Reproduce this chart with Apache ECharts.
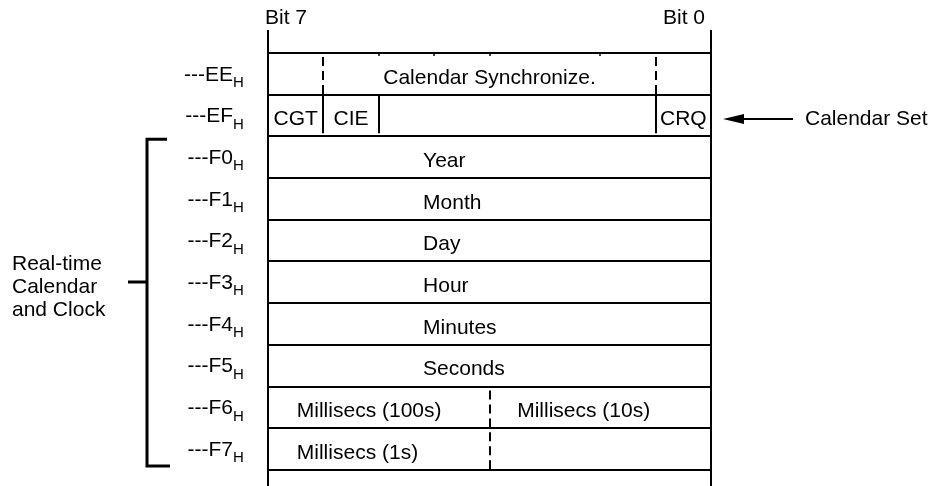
<!DOCTYPE html>
<html>
<head>
<meta charset="utf-8">
<script src="https://cdn.jsdelivr.net/npm/echarts@6/dist/echarts.min.js"></script>
<style>
  html, body { margin: 0; padding: 0; background: #fff; }
  #main { width: 930px; height: 486px; }
</style>
</head>
<body>
<div id="main"></div>
<script>
// register rows (address suffix H is drawn as subscript)
const addresses = ['---EE', '---EF', '---F0', '---F1', '---F2', '---F3', '---F4', '---F5', '---F6', '---F7'];
const bitHeaders = ['Bit 7', 'Bit 0'];
// row EE
const syncField = 'Calendar Synchronize.';
// row EF, one entry per bit (bit 7 .. bit 0)
const controlBits = ['CGT', 'CIE', '', '', '', '', '', 'CRQ'];
// rows F0..F5, full byte fields
const timeFields = ['Year', 'Month', 'Day', 'Hour', 'Minutes', 'Seconds'];
// rows F6, F7, split in two nibbles
const msFields = [['Millisecs (100s)', 'Millisecs (10s)'], ['Millisecs (1s)', '']];
// [row, bit boundary, dashed]
const dividers = [[0, 1, 1], [0, 7, 1], [1, 1, 0], [1, 2, 0], [1, 7, 0], [8, 4, 1], [9, 4, 1]];
const topTicks = [2, 3, 4, 6];
const groupLabel = ['Real-time', 'Calendar', 'and Clock'];
const groupRows = [2, 10];
const arrowLabel = 'Calendar Set';
const arrowRow = 1;

const FONT = '"Liberation Sans", Arial, sans-serif';
const yMin = -0.55, yMax = 10.385;
const nameAnchor = 2.8;

// label list built from the arrays above
const fieldLabels = [];
fieldLabels.push({ row: 0, x: 4, text: syncField, align: 'center' });
controlBits.forEach((t, i) => { if (t) fieldLabels.push({ row: 1, x: i + 0.5, text: t, align: 'center' }); });
timeFields.forEach((t, i) => fieldLabels.push({ row: 2 + i, x: nameAnchor, text: t, align: 'left' }));
msFields.forEach((pair, i) => {
  if (pair[0]) fieldLabels.push({ row: 8 + i, x: 0.52, text: pair[0], align: 'left' });
  if (pair[1]) fieldLabels.push({ row: 8 + i, x: 4.5, text: pair[1], align: 'left' });
});

const chart = echarts.init(document.getElementById('main'));

function txt(x, y, text, size, align) {
  return {
    type: 'text',
    style: { x: x, y: y, text: text, fill: '#000', fontSize: size, fontFamily: FONT, align: align, verticalAlign: 'middle' }
  };
}

chart.setOption({
  animation: false,
  grid: { left: 268, right: 219, top: 30, bottom: 0 },
  xAxis: { type: 'value', min: 0, max: 8, show: false },
  yAxis: { type: 'value', min: yMin, max: yMax, inverse: true, show: false },
  series: [
    {
      // horizontal row lines
      type: 'custom', silent: true,
      data: addresses.map((a, i) => [0, i]).concat([[0, addresses.length]]),
      renderItem: function (params, api) {
        const p0 = api.coord([0, api.value(1)]);
        const p1 = api.coord([8, api.value(1)]);
        const y = Math.round(p0[1]);
        return { type: 'line', shape: { x1: p0[0], y1: y, x2: p1[0], y2: y }, style: { stroke: '#000', lineWidth: 2 } };
      }
    },
    {
      // frame sides with bit headers
      type: 'custom', silent: true,
      data: [[0, 0], [8, 1]],
      renderItem: function (params, api) {
        const p0 = api.coord([api.value(0), yMin]);
        const p1 = api.coord([api.value(0), yMax]);
        const x = Math.round(p0[0]);
        const isLeft = params.dataIndex === 0;
        return {
          type: 'group',
          children: [
            { type: 'line', shape: { x1: x, y1: p0[1], x2: x, y2: p1[1] }, style: { stroke: '#000', lineWidth: 2 } },
            txt(isLeft ? x - 3 : x - 6, p0[1] - 12, bitHeaders[params.dataIndex], 21, isLeft ? 'left' : 'right')
          ]
        };
      }
    },
    {
      // bit field dividers
      type: 'custom', silent: true,
      data: dividers.map(d => [d[1], d[0], d[2]]),
      renderItem: function (params, api) {
        const p0 = api.coord([api.value(0), api.value(1)]);
        const p1 = api.coord([api.value(0), api.value(1) + 1]);
        const x = Math.round(p0[0]);
        const dashed = api.value(2) === 1;
        return {
          type: 'line',
          shape: { x1: x, y1: p0[1] + (dashed ? 4 : 0), x2: x, y2: p1[1] - (dashed ? 0 : 3) },
          style: { stroke: '#000', lineWidth: 2, lineDash: dashed ? [9, 5] : null }
        };
      }
    },
    {
      // small ticks under the top line
      type: 'custom', silent: true,
      data: topTicks.map(b => [b, 0]),
      renderItem: function (params, api) {
        const p = api.coord([api.value(0), api.value(1)]);
        const x = Math.round(p[0]);
        return { type: 'line', shape: { x1: x, y1: p[1], x2: x, y2: p[1] + 3 }, style: { stroke: '#000', lineWidth: 1.5 } };
      }
    },
    {
      // field names
      type: 'custom', silent: true,
      data: fieldLabels.map(f => [f.x, f.row]),
      renderItem: function (params, api) {
        const f = fieldLabels[params.dataIndex];
        const p = api.coord([f.x, f.row + 0.5]);
        return txt(p[0], p[1] + 4, f.text, 21, f.align);
      }
    },
    {
      // addresses on the left
      type: 'custom', silent: true,
      data: addresses.map((a, i) => [0, i]),
      renderItem: function (params, api) {
        const p = api.coord([0, api.value(1) + 0.5]);
        const x = p[0] - 35;
        return {
          type: 'group',
          children: [
            txt(x, p[1] + 1, addresses[params.dataIndex], 21, 'right'),
            txt(x, p[1] + 9, 'H', 15, 'left')
          ]
        };
      }
    },
    {
      // bracket, group label, arrow
      type: 'custom', silent: true,
      data: [[0, 0]],
      renderItem: function (params, api) {
        const left = api.coord([0, groupRows[0]]);
        const top = left[1] + 3;
        const bottom = api.coord([0, groupRows[1]])[1] - 4;
        const mid = Math.round(api.coord([0, 5.5])[1]);
        const bx = left[0] - 121;
        const a = api.coord([8, arrowRow + 0.5]);
        const ay = Math.round(a[1] + 4);
        const children = [
          { type: 'polyline', shape: { points: [[bx + 20, top], [bx, top], [bx, bottom], [bx + 23, bottom]] },
            style: { stroke: '#000', lineWidth: 3, fill: 'none' } },
          { type: 'line', shape: { x1: bx - 19, y1: mid, x2: bx, y2: mid }, style: { stroke: '#000', lineWidth: 3 } },
          { type: 'line', shape: { x1: a[0] + 30, y1: ay, x2: a[0] + 82, y2: ay }, style: { stroke: '#000', lineWidth: 2 } },
          { type: 'polygon', shape: { points: [[a[0] + 12, ay], [a[0] + 33, ay - 5], [a[0] + 33, ay + 5]] }, style: { fill: '#000' } },
          txt(a[0] + 94, ay, arrowLabel, 21, 'left')
        ];
        groupLabel.forEach((t, i) => children.push(txt(12, mid - 18 + i * 23, t, 21, 'left')));
        return { type: 'group', children: children };
      }
    }
  ]
});
</script>
</body>
</html>
